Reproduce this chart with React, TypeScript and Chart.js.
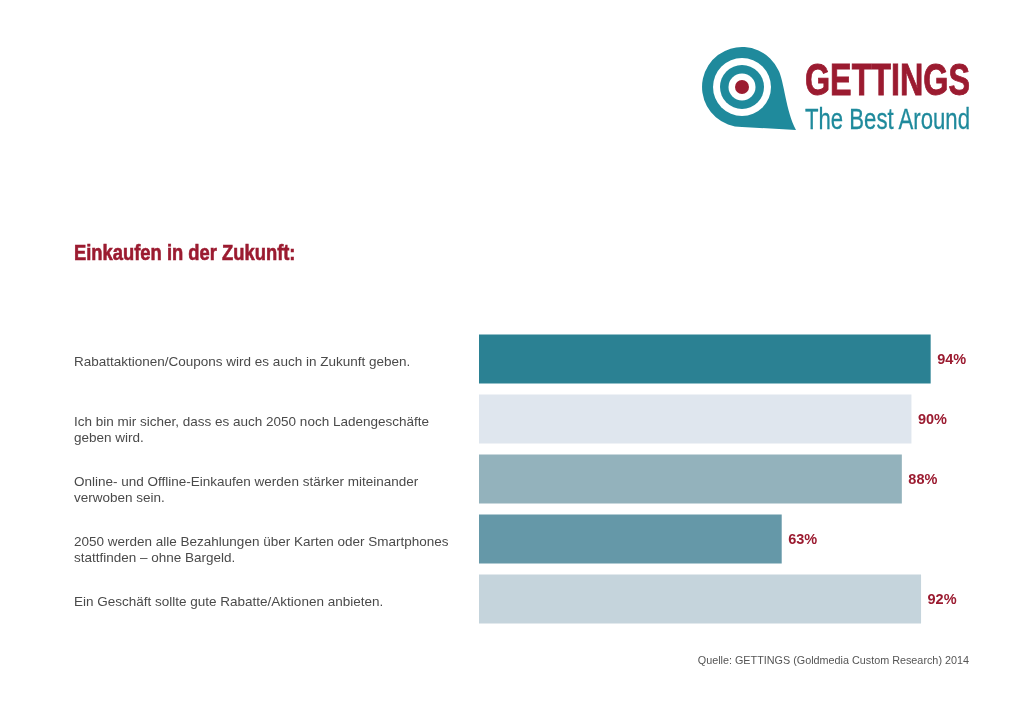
import React, { useEffect, useRef } from "react";
import { Chart, registerables } from "chart.js";

Chart.register(...registerables);

const categories: string[][] = [
  ["Rabattaktionen/Coupons wird es auch in Zukunft geben."],
  ["Ich bin mir sicher, dass es auch 2050 noch Ladengeschäfte", "geben wird."],
  ["Online- und Offline-Einkaufen werden stärker miteinander", "verwoben sein."],
  ["2050 werden alle Bezahlungen über Karten oder Smartphones", "stattfinden – ohne Bargeld."],
  ["Ein Geschäft sollte gute Rabatte/Aktionen anbieten."],
];
const values: number[] = [94, 90, 88, 63, 92];
const valueLabels: string[] = values.map((v) => `${v}%`);
const barColors: string[] = ["#2b8193", "#dfe6ee", "#93b2bc", "#6598a8", "#c5d4dc"];

const titleText = "Einkaufen in der Zukunft:";
const sourceText = "Quelle: GETTINGS (Goldmedia Custom Research) 2014";
const brandName = "GETTINGS";
const brandSlogan = "The Best Around";

const RED = "#9b1b30";
const TEAL = "#1f8a9c";
const SANS = "'Liberation Sans', Arial, Helvetica, sans-serif";

const labelPlugin = {
  id: "rowLabels",
  afterDatasetsDraw(chart: any) {
    const ctx = chart.ctx as CanvasRenderingContext2D;
    const yScale = chart.scales.y;
    const meta = chart.getDatasetMeta(0);
    ctx.save();
    ctx.textBaseline = "middle";
    categories.forEach((lines, i) => {
      const cy = yScale.getPixelForValue(i);
      ctx.font = `13.5px ${SANS}`;
      ctx.fillStyle = "#4a4a4a";
      ctx.textAlign = "left";
      lines.forEach((ln, j) => ctx.fillText(ln, 74, cy + 3.5 + j * 15.5));
      const bar = meta.data[i];
      ctx.font = `bold 14.5px ${SANS}`;
      ctx.fillStyle = RED;
      ctx.fillText(valueLabels[i], bar.x + 6.5, cy + 1);
    });
    ctx.restore();
  },
};

export default function App() {
  const canvasRef = useRef<HTMLCanvasElement | null>(null);

  useEffect(() => {
    if (!canvasRef.current) return;
    const chart = new Chart(canvasRef.current, {
      type: "bar",
      data: {
        labels: categories,
        datasets: [
          {
            data: values,
            backgroundColor: barColors,
            borderWidth: 0,
            barPercentage: 0.82,
            categoryPercentage: 1,
          },
        ],
      },
      options: {
        indexAxis: "y",
        responsive: false,
        animation: false,
        devicePixelRatio: 1,
        layout: { padding: { left: 479, right: 64.5, top: 329, bottom: 94 } },
        scales: {
          x: { min: 0, max: 100, display: false },
          y: { display: false, offset: true },
        },
        plugins: {
          legend: { display: false },
          tooltip: { enabled: false },
        },
      },
      plugins: [labelPlugin],
    });
    return () => chart.destroy();
  }, []);

  return (
    <div style={{ position: "absolute", left: 0, top: 0, width: 1024, height: 723, background: "#fff", overflow: "hidden" }}>
      <canvas ref={canvasRef} width={1024} height={723} style={{ position: "absolute", left: 0, top: 0 }} />
      <svg width={1024} height={723} style={{ position: "absolute", left: 0, top: 0, pointerEvents: "none" }}>
        <path d="M 742 127 A 40 40 0 1 1 778.3 70.1 C 784 80 786 112 796 130 L 742 127 Z" fill={TEAL} />
        <circle cx={742} cy={87} r={29} fill="#fff" />
        <circle cx={742} cy={87} r={22} fill={TEAL} />
        <circle cx={742} cy={87} r={13.5} fill="#fff" />
        <circle cx={742} cy={87} r={7} fill={RED} />
        <text x={805} y={94.5} fill={RED} stroke={RED} strokeWidth={0.9} fontFamily={SANS} fontWeight="bold" fontSize={44} textLength={165} lengthAdjust="spacingAndGlyphs">
          {brandName}
        </text>
        <text x={805} y={129} fill={TEAL} stroke={TEAL} strokeWidth={0.3} fontFamily={SANS} fontSize={30} textLength={165} lengthAdjust="spacingAndGlyphs">
          {brandSlogan}
        </text>
        <text x={74} y={259.5} fill={RED} stroke={RED} strokeWidth={0.6} fontFamily={SANS} fontWeight="bold" fontSize={22} textLength={221.5} lengthAdjust="spacingAndGlyphs">
          {titleText}
        </text>
        <text x={969} y={664} fill="#555" fontFamily={SANS} fontSize={10.8} textAnchor="end">
          {sourceText}
        </text>
      </svg>
    </div>
  );
}
